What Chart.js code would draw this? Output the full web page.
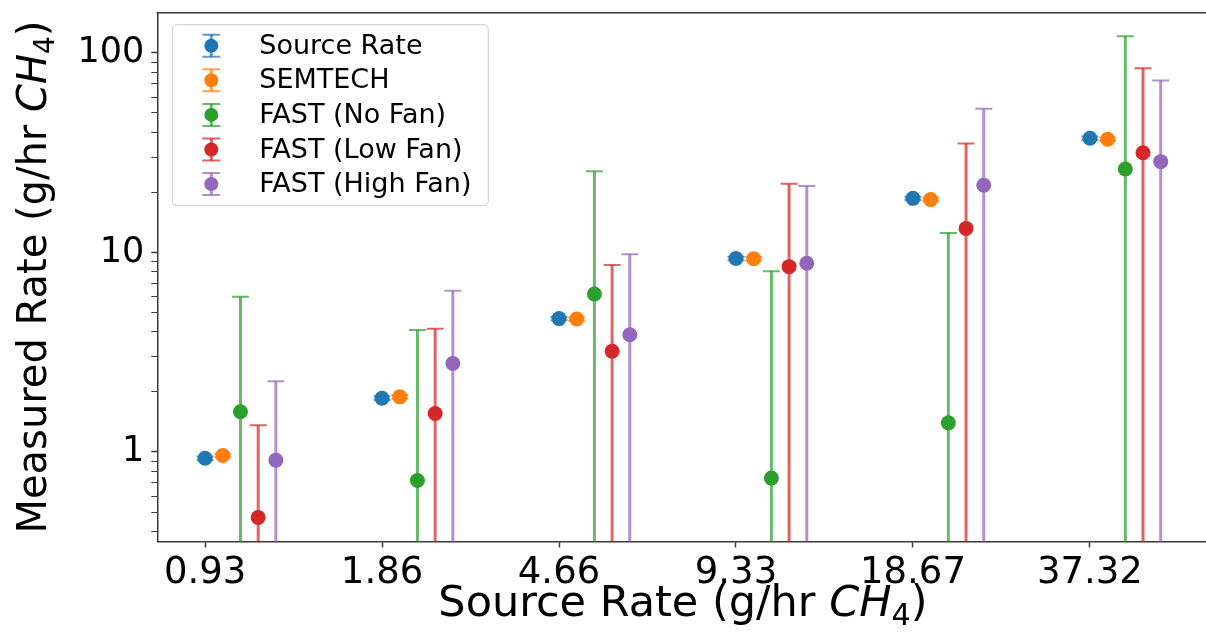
<!DOCTYPE html>
<html lang="en">
<head>
<meta charset="UTF-8">
<title>Measured Rate vs Source Rate</title>
<script src="https://cdn.jsdelivr.net/npm/chart.js"></script>
<style>
  html, body { margin: 0; padding: 0; overflow: hidden; background: #fff; }
  #wrap { width: 1216px; height: 633px; }
</style>
</head>
<body>
<div id="wrap"><canvas id="rateChart" width="1216" height="633"></canvas></div>
<script>
const categories = ['0.93', '1.86', '4.66', '9.33', '18.67', '37.32'];
const seriesNames = ['Source Rate', 'SEMTECH', 'FAST (No Fan)', 'FAST (Low Fan)', 'FAST (High Fan)'];
const seriesColors = ['#1f77b4', '#ff7f0e', '#2ca02c', '#d62728', '#9467bd'];

// measured value and symmetric error for each source rate
const sourceRate = [0.93, 1.86, 4.66, 9.33, 18.67, 37.32];
const sourceErr = [0.02, 0.04, 0.09, 0.19, 0.37, 0.75];
const semtech = [0.96, 1.89, 4.64, 9.30, 18.4, 36.9];
const semtechErr = [0.02, 0.04, 0.09, 0.19, 0.37, 0.74];
const fastNoFan = [1.59, 0.72, 6.19, 0.74, 1.40, 26.2];
const fastNoFanErr = [4.41, 3.37, 19.3, 7.31, 11.1, 94.8];
const fastLowFan = [0.47, 1.56, 3.20, 8.49, 13.2, 31.6];
const fastLowFanErr = [0.89, 2.59, 5.46, 13.6, 22.0, 52.1];
const fastHighFan = [0.91, 2.78, 3.87, 8.83, 21.7, 28.5];
const fastHighFanErr = [1.35, 3.65, 5.93, 12.7, 30.8, 44.3];

const yTickLabels = [1, 10, 100];

const FONT = "'DejaVu Sans', sans-serif";
const AXIS_COLOR = '#3a3a3a';
const groupStep = 0.1;      // horizontal shift between series inside a group
const capHalf = 8.5;

const values = [sourceRate, semtech, fastNoFan, fastLowFan, fastHighFan];
const errors = [sourceErr, semtechErr, fastNoFanErr, fastLowFanErr, fastHighFanErr];

const yMin = 0.356, yMax = 159;
const yTicks = [];
[0.1, 1, 10, 100].forEach(d => {
  for (let m = 1; m <= 9; m++) {
    const v = +(m * d).toPrecision(6);
    if (v >= yMin && v <= yMax) yTicks.push(v);
  }
});

function withAlpha(hex, a) {
  const n = parseInt(hex.slice(1), 16);
  return `rgba(${(n >> 16) & 255}, ${(n >> 8) & 255}, ${n & 255}, ${a})`;
}

// vertical error bars with caps, drawn just before each dataset's markers
const errorBars = {
  id: 'errorBars',
  beforeDatasetDraw(chart, args) {
    const ds = chart.data.datasets[args.index];
    const y = chart.scales.y;
    const area = chart.chartArea;
    const ctx = chart.ctx;
    ctx.save();
    ctx.beginPath();
    ctx.rect(area.left, area.top, area.right - area.left, area.bottom - area.top);
    ctx.clip();
    ctx.strokeStyle = withAlpha(ds.backgroundColor, 0.72);
    args.meta.data.forEach((pt, j) => {
      const v = ds.data[j].y, e = ds.errors[j];
      const yTop = y.getPixelForValue(v + e);
      const lo = v - e;
      const yBot = lo > 0 ? y.getPixelForValue(lo) : area.bottom + 10;
      ctx.lineWidth = 3;
      ctx.beginPath();
      ctx.moveTo(pt.x, yTop);
      ctx.lineTo(pt.x, yBot);
      ctx.stroke();
      ctx.lineWidth = 2;
      ctx.beginPath();
      ctx.moveTo(pt.x - capHalf, yTop);
      ctx.lineTo(pt.x + capHalf, yTop);
      if (lo > 0) {
        ctx.moveTo(pt.x - capHalf, yBot);
        ctx.lineTo(pt.x + capHalf, yBot);
      }
      ctx.stroke();
    });
    ctx.restore();
  }
};

// text made of runs: plain, italic and subscript parts
function drawRuns(ctx, runs, size, cx, cy) {
  const fontOf = r => {
    const s = r.sub ? size * 0.7 : size;
    return `${r.italic ? 'italic ' : ''}${s}px ${FONT}`;
  };
  let total = 0;
  runs.forEach(r => { ctx.font = fontOf(r); r.w = ctx.measureText(r.t).width; total += r.w; });
  let x = cx - total / 2;
  ctx.textBaseline = 'middle';
  ctx.textAlign = 'left';
  runs.forEach(r => {
    ctx.font = fontOf(r);
    ctx.fillText(r.t, x, cy + (r.sub ? size * 0.28 : 0));
    x += r.w;
  });
}

const decorations = {
  id: 'decorations',
  afterDraw(chart) {
    const ctx = chart.ctx;
    const area = chart.chartArea;
    ctx.save();
    // top and right spines
    ctx.strokeStyle = AXIS_COLOR;
    ctx.lineWidth = 1.5;
    ctx.beginPath();
    ctx.moveTo(area.left - 0.75, area.top);
    ctx.lineTo(area.right, area.top);
    ctx.lineTo(area.right, area.bottom);
    ctx.stroke();

    // axis titles
    ctx.fillStyle = '#000';
    const unit = () => [{ t: 'CH', italic: true }, { t: '4', sub: true }, { t: ')' }];
    drawRuns(ctx, [{ t: 'Source Rate (g/hr ' }].concat(unit()), 43,
      (area.left + area.right) / 2, 605);
    ctx.save();
    ctx.translate(36, (area.top + area.bottom) / 2);
    ctx.rotate(-Math.PI / 2);
    drawRuns(ctx, [{ t: 'Measured Rate (g/hr ' }].concat(unit()), 40, 0, 0);
    ctx.restore();

    // legend
    const bx = area.left + 15, by = area.top + 12, bw = 316, bh = 181;
    ctx.fillStyle = 'rgba(255,255,255,0.8)';
    ctx.strokeStyle = '#d4d4d4';
    ctx.lineWidth = 1.2;
    ctx.beginPath();
    ctx.roundRect(bx, by, bw, bh, 5);
    ctx.fill();
    ctx.stroke();
    chart.data.datasets.forEach((ds, k) => {
      const cy = by + 21 + k * 34.6;
      const mx = bx + 39;
      ctx.strokeStyle = withAlpha(ds.backgroundColor, 0.72);
      ctx.lineWidth = 3;
      ctx.beginPath();
      ctx.moveTo(mx, cy - 11);
      ctx.lineTo(mx, cy + 11);
      ctx.stroke();
      ctx.lineWidth = 2;
      ctx.beginPath();
      ctx.moveTo(mx - 9, cy - 11); ctx.lineTo(mx + 9, cy - 11);
      ctx.moveTo(mx - 9, cy + 11); ctx.lineTo(mx + 9, cy + 11);
      ctx.stroke();
      ctx.fillStyle = ds.backgroundColor;
      ctx.beginPath();
      ctx.arc(mx, cy, 7, 0, Math.PI * 2);
      ctx.fill();
      ctx.fillStyle = '#000';
      ctx.font = `27px ${FONT}`;
      ctx.textAlign = 'left';
      ctx.textBaseline = 'middle';
      ctx.fillText(ds.label, bx + 87, cy + 1);
    });
    ctx.restore();
  }
};

const datasets = seriesNames.map((name, k) => ({
  label: name,
  data: values[k].map((v, i) => ({ x: i + k * groupStep, y: v })),
  errors: errors[k],
  backgroundColor: seriesColors[k],
  borderWidth: 0,
  pointRadius: 7.5,
  pointHoverRadius: 7.5,
  order: seriesNames.length - k
}));

new Chart(document.getElementById('rateChart'), {
  type: 'scatter',
  data: { datasets },
  options: {
    responsive: false,
    animation: false,
    events: [],
    layout: { padding: { top: 12.7, left: 0, right: 0, bottom: 0 } },
    plugins: { legend: { display: false }, tooltip: { enabled: false } },
    scales: {
      x: {
        type: 'linear',
        min: -0.27,
        max: 5.67,
        afterBuildTicks: s => { s.ticks = categories.map((_, i) => ({ value: i })); },
        afterFit: s => { s.height = 91.5; s.paddingLeft = 0; s.paddingRight = 0; },
        ticks: {
          callback: v => categories[v] ?? '',
          font: { family: FONT, size: 37 },
          color: '#000',
          padding: 4,
          maxRotation: 0,
          autoSkip: false
        },
        grid: { drawOnChartArea: false, drawTicks: true, tickLength: 6, tickColor: AXIS_COLOR, tickWidth: 1.5 },
        border: { color: AXIS_COLOR, width: 1.5 }
      },
      y: {
        type: 'logarithmic',
        min: yMin,
        max: yMax,
        afterBuildTicks: s => { s.ticks = yTicks.map(v => ({ value: v, major: yTickLabels.includes(v) })); },
        afterFit: s => { s.width = 157.3; s.paddingTop = 0; s.paddingBottom = 0; },
        ticks: {
          callback: v => yTickLabels.includes(v) ? String(v) : '',
          font: { family: FONT, size: 35 },
          color: '#000',
          padding: 7,
          autoSkip: false
        },
        grid: {
          drawOnChartArea: false,
          drawTicks: true,
          tickLength: 6,
          tickColor: AXIS_COLOR,
          tickWidth: c => (c.tick && yTickLabels.includes(c.tick.value)) ? 1.5 : 1
        },
        border: { color: AXIS_COLOR, width: 1.5 }
      }
    }
  },
  plugins: [errorBars, decorations]
});
</script>
</body>
</html>
